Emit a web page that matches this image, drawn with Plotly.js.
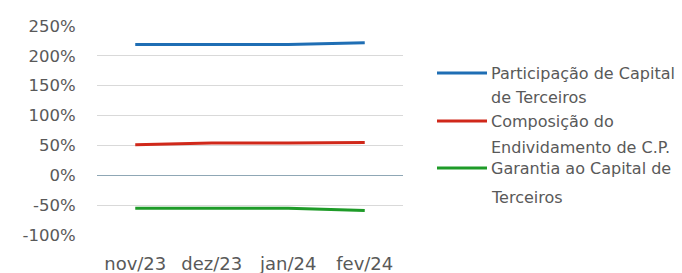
<!DOCTYPE html>
<html><head><meta charset="utf-8">
<script src="https://cdn.plot.ly/plotly-3.0.1.min.js"></script>
<style>html,body{margin:0;padding:0;background:#fff}#chart{width:682px;height:273px}</style>
</head><body><div id="chart"></div>
<script>
const categories = ["nov/23", "dez/23", "jan/24", "fev/24"];
const seriesNames = ["Participação de Capital<br>de Terceiros", "Composição do<br>Endividamento de C.P.", "Garantia ao Capital de<br>Terceiros"];
const participacao = [2.19, 2.19, 2.19, 2.22];
const composicao = [0.51, 0.54, 0.54, 0.55];
const garantia = [-0.55, -0.55, -0.55, -0.59];
const tickVals = [-1, -0.5, 0, 0.5, 1, 1.5, 2, 2.5];
const tickText = ["-100%", "-50%", "0%", "50%", "100%", "150%", "200%", "250%"];

const colors = ["#1F6EB4", "#D0281A", "#1E9B28"];
const values = [participacao, composicao, garantia];
const font = "DejaVu Sans, sans-serif";
const textColor = "#595959";

const traces = values.map((v, i) => ({
  x: categories, y: v, type: "scatter", mode: "lines",
  name: seriesNames[i], line: {color: colors[i], width: 3}, showlegend: false,
  hoverinfo: "skip"
}));

// legend drawn as shapes + annotations in paper coords
const shapes = [], annotations = [];
const plotL = 97, plotW = 306, plotT = 26, plotH = 209;
const x0 = (437 - plotL) / plotW, x1 = (487 - plotL) / plotW, xt = (489 - plotL) / plotW;
const legendRows = [[73, 97], [121, 147], [168, 197]];
seriesNames.forEach((n, i) => {
  const lines = n.split("<br>");
  const yl = 1 - (legendRows[i][0] - plotT) / plotH;
  shapes.push({type: "line", xref: "paper", yref: "paper", x0: x0, x1: x1, y0: yl, y1: yl,
    line: {color: colors[i], width: 3}});
  lines.forEach((t, j) => {
    const yy = 1 - (legendRows[i][j] - plotT) / plotH;
    annotations.push({xref: "paper", yref: "paper", x: xt, y: yy, text: t, showarrow: false,
      xanchor: "left", yanchor: "middle", font: {family: font, size: 16, color: textColor}});
  });
});

const layout = {
  width: 682, height: 273,
  margin: {l: plotL, r: 682 - plotL - plotW, t: plotT, b: 273 - plotT - plotH},
  paper_bgcolor: "#fff", plot_bgcolor: "#fff",
  showlegend: false,
  font: {family: font, size: 17, color: textColor},
  xaxis: {type: "category", range: [-0.5, 3.5], showgrid: false, zeroline: false, showline: false,
    ticks: "outside", ticklen: 12, tickcolor: "rgba(0,0,0,0)",
    tickfont: {family: font, size: 18, color: textColor}},
  yaxis: {range: [-1, 2.5], tickvals: tickVals, ticktext: tickText,
    showgrid: true, gridcolor: "#D9D9D9", gridwidth: 1,
    zeroline: true, zerolinecolor: "#8FA7B5", zerolinewidth: 1,
    ticks: "outside", ticklen: 17, tickcolor: "rgba(0,0,0,0)",
    tickfont: {family: font, size: 16.5, color: textColor}},
  shapes: shapes, annotations: annotations
};
Plotly.newPlot("chart", traces, layout, {displayModeBar: false, staticPlot: true});
</script></body></html>
